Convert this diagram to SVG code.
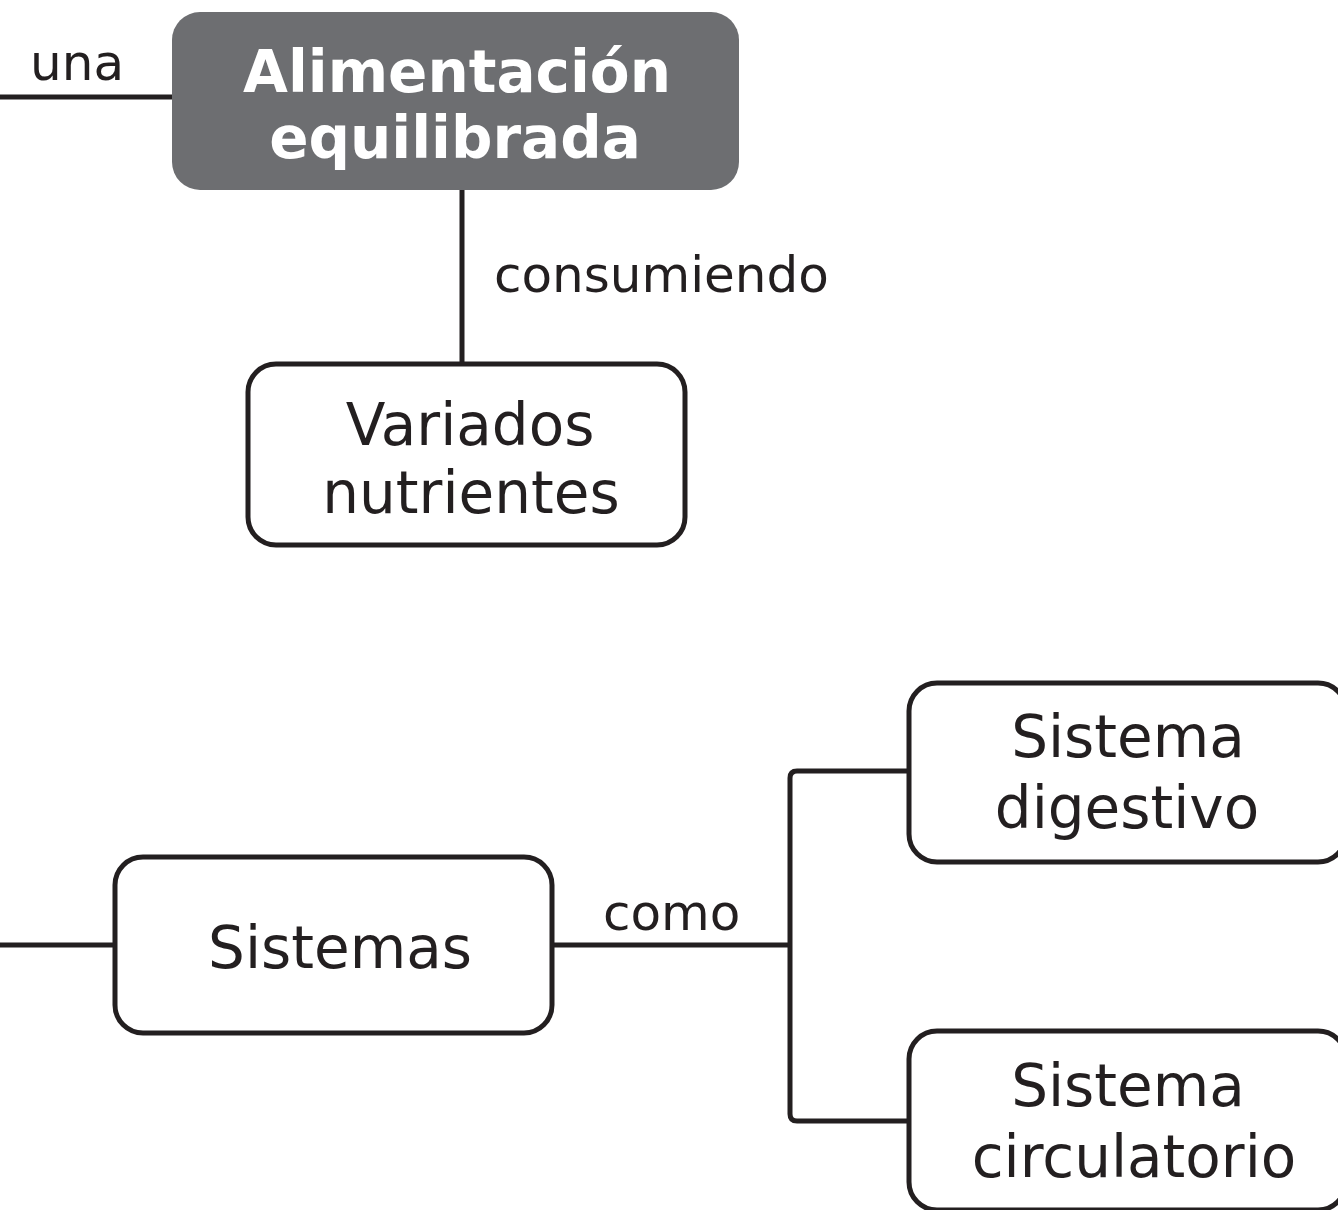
<svg xmlns="http://www.w3.org/2000/svg" width="1338" height="1210" viewBox="0 0 1338 1210">
<style>
.box{fill:#ffffff;stroke:#231f20;stroke-width:5}
.dark{fill:#6d6e71;stroke:none}
.t{font-family:"DejaVu Sans",Verdana,sans-serif;font-size:58px;fill:#231f20;text-anchor:middle}
.tb{font-family:"DejaVu Sans",Verdana,sans-serif;font-size:58px;font-weight:bold;fill:#ffffff;text-anchor:middle}
.lbl{font-family:"DejaVu Sans",Verdana,sans-serif;font-size:50px;fill:#231f20}
.ln{fill:none;stroke:#231f20;stroke-width:5;stroke-linejoin:round}
</style>
<rect width="1338" height="1210" fill="#ffffff"/>
<g id="connectors">
<path class="ln" d="M0 97 H172"/>
<path class="ln" d="M462 190 V364"/>
<path class="ln" d="M0 945 H115"/>
<path class="ln" d="M552 945 H790"/>
<path class="ln" d="M909 771 H797 Q790 771 790 778 V1114 Q790 1121 797 1121 H909"/>
<text class="lbl" x="30" y="80">una</text>
<text class="lbl" x="494" y="292">consumiendo</text>
<text class="lbl" x="603" y="930">como</text>
</g>
<g id="alimentacion">
<rect class="dark" x="172" y="12" width="567" height="178" rx="28"/>
<text class="tb" x="457" y="92">Alimentación</text>
<text class="tb" x="455" y="158">equilibrada</text>
</g>
<g id="variados">
<rect class="box" x="248" y="364" width="437" height="181" rx="28"/>
<text class="t" x="470" y="445">Variados</text>
<text class="t" x="471" y="513">nutrientes</text>
</g>
<g id="sistemas">
<rect class="box" x="115" y="857" width="437" height="176" rx="28"/>
<text class="t" x="340" y="968">Sistemas</text>
</g>
<g id="digestivo">
<rect class="box" x="909" y="683" width="437" height="179" rx="28"/>
<text class="t" x="1128" y="757">Sistema</text>
<text class="t" x="1127" y="828">digestivo</text>
</g>
<g id="circulatorio">
<rect class="box" x="909" y="1031" width="437" height="179" rx="28"/>
<text class="t" x="1128" y="1106">Sistema</text>
<text class="t" x="1134" y="1177">circulatorio</text>
</g>
</svg>
